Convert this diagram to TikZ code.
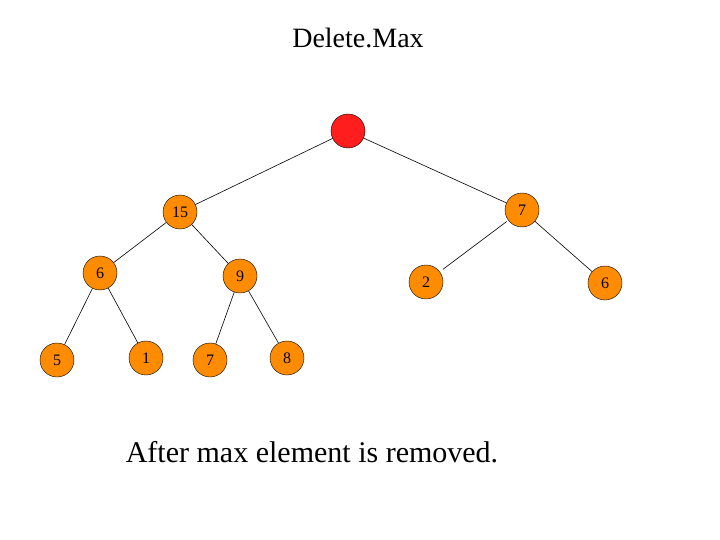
\documentclass[tikz,border=0pt]{standalone}
\usepackage{fontspec}
\setmainfont{Liberation Serif}
\begin{document}
\begin{tikzpicture}[x=1pt,y=-1pt,
  hn/.style={circle,draw=black,fill=orange!90!yellow,minimum size=34pt,inner sep=0pt,font=\fontsize{16}{16}\selectfont},
  rn/.style={hn,fill=red!85!pink},
  ed/.style={draw=black,line width=0.6pt}]
\useasboundingbox (0,0) rectangle (720,540);
\node (title) at (358,38) {\fontsize{28}{28}\selectfont Delete.Max};
\node[rn] (r) at (348,131) {};
\node[hn] (a) at (180,212) {15};
\node[hn] (b) at (522,210) {7};
\node[hn] (c) at (100,273) {6};
\node[hn] (d) at (240,276) {9};
\node[hn] (e) at (426,282) {2};
\node[hn] (f) at (605,283) {6};
\node[hn] (g) at (57,360) {5};
\node[hn] (h) at (146,358) {1};
\node[hn] (i) at (210,360) {7};
\node[hn] (j) at (287,358) {8};
\node (cap) at (312,452) {\fontsize{30}{30}\selectfont After max element is removed.};
\draw[ed] (r)--(a); \draw[ed] (r)--(b);
\draw[ed] (a)--(c); \draw[ed] (a)--(d);
\draw[ed,shorten <=2pt,shorten >=4pt] (b)--(e); \draw[ed] (b)--(f);
\draw[ed] (c)--(g); \draw[ed] (c)--(h);
\draw[ed] (d)--(i); \draw[ed] (d)--(j);
\end{tikzpicture}
\end{document}
